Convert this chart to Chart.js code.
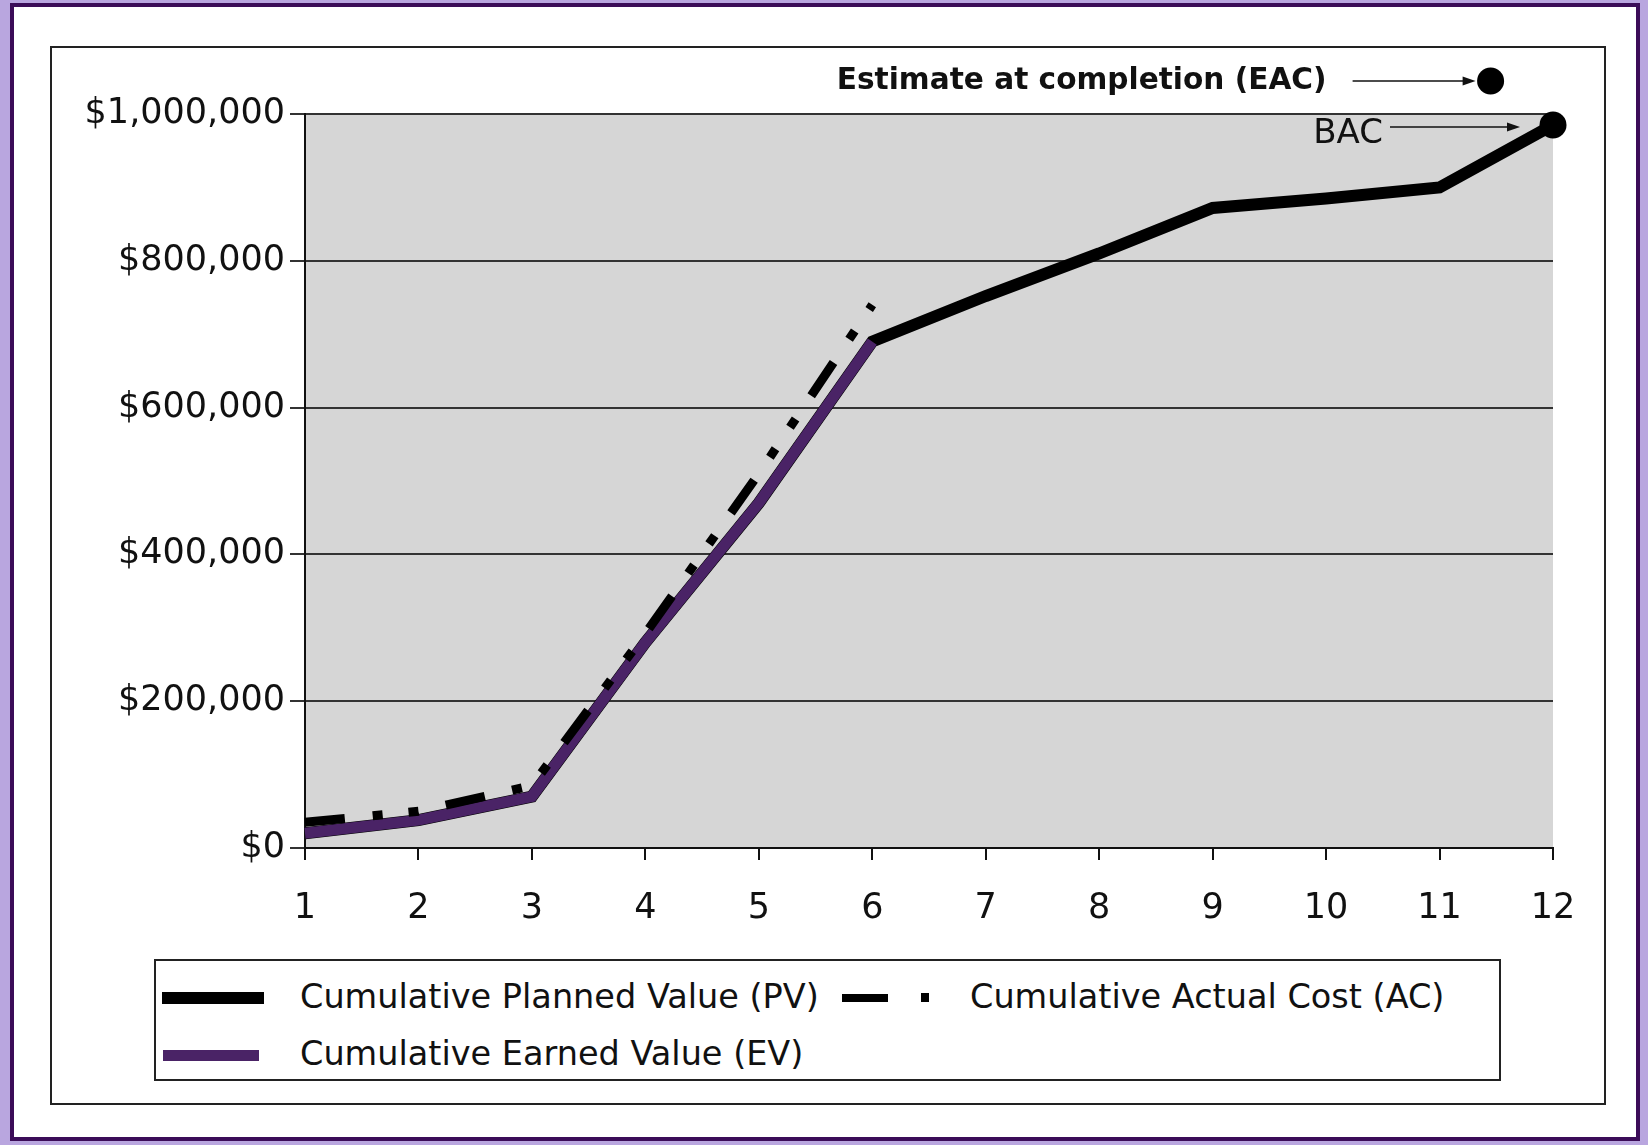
<!DOCTYPE html>
<html lang="en">
<head>
<meta charset="UTF-8">
<title>Earned value chart</title>
<script src="https://cdn.jsdelivr.net/npm/chart.js@4.4.1/dist/chart.umd.min.js"></script>
<style>
  html, body { margin: 0; padding: 0; }
  body {
    width: 1648px; height: 1145px; position: relative; overflow: hidden;
    background: #b9a6df; font-family: "DejaVu Sans", sans-serif; color: #111;
  }
  #frame {
    position: absolute; left: 10px; top: 3px; width: 1630px; height: 1138px;
    border: 4px solid #3b0c58; background: #fff; box-sizing: border-box;
  }
  #box {
    position: absolute; left: 50px; top: 46px; width: 1556px; height: 1059px;
    border: 2px solid #222; box-sizing: border-box;
  }
  #legend {
    position: absolute; left: 154px; top: 959px; width: 1347px; height: 122px;
    border: 2px solid #222; box-sizing: border-box; background: #fff;
    font-size: 33.5px;
  }
  .item { position: absolute; white-space: nowrap; line-height: 40px; }
  .sw { position: absolute; }
  canvas { position: absolute; left: 0; top: 0; }
</style>
</head>
<body>
  <div id="frame"></div>
  <div id="box"></div>
  <div id="legend">
    <div class="sw" style="left:6px; top:31px; width:102px; height:12px; background:#000;"></div>
    <div class="item" style="left:144px; top:16px;">Cumulative Planned Value (PV)</div>
    <div class="sw" style="left:686px; top:33px; width:46px; height:8px; background:#000;"></div>
    <div class="sw" style="left:765px; top:32px; width:8px; height:9px; background:#000;"></div>
    <div class="item" style="left:814px; top:16px;">Cumulative Actual Cost (AC)</div>
    <div class="sw" style="left:7px; top:89px; width:96px; height:11px; background:#4a2366;"></div>
    <div class="item" style="left:144px; top:73px;">Cumulative Earned Value (EV)</div>
  </div>
  <canvas id="myChart" width="1648" height="1145"></canvas>

  <script>
    // months 1..12
    const months = [1, 2, 3, 4, 5, 6, 7, 8, 9, 10, 11, 12];
    const pvValues = [20000, 38000, 70000, 280000, 470000, 690000, 752000, 810000, 872000, 885000, 900000, 985000];
    const evValues = [20000, 38000, 70000, 280000, 470000, 690000];
    const acValues = [35000, 50000, 85000, 292000, 510000, 740000];
    const yTicks = [0, 200000, 400000, 600000, 800000, 1000000];
    const eacPoint = { x: 11.45, y: 1045000 };
    const bacPoint = { x: 12, y: 985000 };

    const toXY = (vals) => vals.map((v, i) => ({ x: months[i], y: v }));
    const money = (v) => '$' + v.toLocaleString('en-US');

    const plotBg = {
      id: 'plotBg',
      beforeDraw(chart) {
        const { ctx, chartArea: a } = chart;
        ctx.save();
        ctx.fillStyle = '#d6d6d6';
        ctx.fillRect(a.left, a.top, a.right - a.left, a.bottom - a.top);
        ctx.restore();
      }
    };

    function arrow(ctx, x1, y1, x2, y2) {
      ctx.beginPath();
      ctx.moveTo(x1, y1);
      ctx.lineTo(x2 - 10, y2);
      ctx.lineWidth = 1.6;
      ctx.strokeStyle = '#111';
      ctx.stroke();
      ctx.beginPath();
      ctx.moveTo(x2, y2);
      ctx.lineTo(x2 - 13, y2 - 4.5);
      ctx.lineTo(x2 - 13, y2 + 4.5);
      ctx.closePath();
      ctx.fillStyle = '#111';
      ctx.fill();
    }

    // EAC sits above the plot area, so Chart.js would skip it as a point; draw it here from the scales
    const notes = {
      id: 'notes',
      afterDatasetsDraw(chart) {
        const { ctx, scales: { x, y } } = chart;
        const ex = x.getPixelForValue(eacPoint.x), ey = y.getPixelForValue(eacPoint.y);
        const bx = x.getPixelForValue(bacPoint.x), by = y.getPixelForValue(bacPoint.y);
        ctx.save();
        ctx.beginPath();
        ctx.arc(ex, ey, 13.5, 0, Math.PI * 2);
        ctx.fillStyle = '#000';
        ctx.fill();
        ctx.textBaseline = 'middle';
        ctx.textAlign = 'right';
        ctx.fillStyle = '#111';
        ctx.font = 'bold 29.6px "DejaVu Sans"';
        ctx.fillText('Estimate at completion (EAC)', ex - 164, ey);
        arrow(ctx, ex - 138, ey, ex - 15, ey);
        ctx.font = '34px "DejaVu Sans"';
        ctx.fillText('BAC', bx - 170, by + 9);
        arrow(ctx, bx - 163, by + 2, bx - 33, by + 2);
        ctx.restore();
      }
    };

    const ctx = document.getElementById('myChart').getContext('2d');
    const myChart = new Chart(ctx, {
      type: 'line',
      data: {
        datasets: [{
          label: 'BAC',
          data: [bacPoint],
          showLine: false,
          pointRadius: 13.5,
          pointBackgroundColor: '#000',
          pointBorderWidth: 0,
          clip: false,
          order: 0
        }, {
          label: 'Cumulative Actual Cost (AC)',
          data: toXY(acValues),
          borderColor: '#000',
          borderWidth: 9,
          borderDash: [40, 28, 10, 26, 10, 28],
          borderCapStyle: 'butt',
          pointRadius: 0,
          clip: false,
          order: 1
        }, {
          label: 'Cumulative Earned Value (EV)',
          data: toXY(evValues),
          borderColor: '#4a2366',
          borderWidth: 11,
          borderJoinStyle: 'miter',
          pointRadius: 0,
          clip: false,
          order: 2
        }, {
          label: 'Cumulative Planned Value (PV)',
          data: toXY(pvValues),
          borderColor: '#000',
          borderWidth: 12,
          borderJoinStyle: 'miter',
          pointRadius: 0,
          clip: false,
          order: 3
        }]
      },
      options: {
        responsive: false,
        animation: false,
        events: [],
        layout: { padding: { left: 0, top: 114, right: 95, bottom: 0 } },
        plugins: { legend: { display: false }, tooltip: { enabled: false } },
        scales: {
          x: {
            type: 'linear',
            min: 1, max: 12,
            afterFit(scale) { scale.height = 297; },
            afterBuildTicks(scale) { scale.ticks = months.map(v => ({ value: v })); },
            grid: { drawOnChartArea: false, drawTicks: true, tickLength: 12, color: '#111', lineWidth: 2 },
            border: { color: '#111', width: 2 },
            ticks: { color: '#111', padding: 28, font: { family: 'DejaVu Sans', size: 35 }, maxRotation: 0 }
          },
          y: {
            min: 0, max: 1000000,
            afterFit(scale) { scale.width = 305; },
            afterBuildTicks(scale) { scale.ticks = yTicks.map(v => ({ value: v })); },
            grid: { color: '#333', lineWidth: 2, tickLength: 15, drawTicks: true },
            border: { color: '#111', width: 2 },
            ticks: { color: '#111', padding: 5, font: { family: 'DejaVu Sans', size: 35 }, callback: (v) => money(v) }
          }
        }
      },
      plugins: [plotBg, notes]
    });
  </script>
</body>
</html>
